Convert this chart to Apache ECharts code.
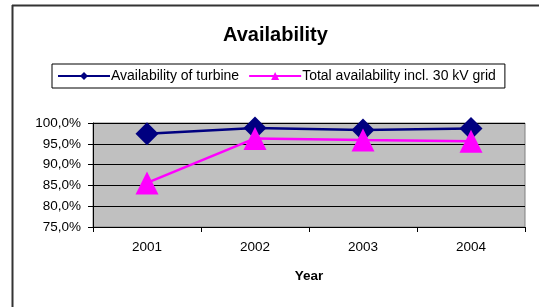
<!DOCTYPE html>
<html>
<head>
<meta charset="utf-8">
<script src="https://cdn.jsdelivr.net/npm/echarts@6/dist/echarts.min.js"></script>
<style>
  html, body { margin: 0; padding: 0; background: #fff; }
  #chart { width: 539px; height: 307px; }
</style>
</head>
<body>
<div id="chart"></div>
<script>
const years = ['2001', '2002', '2003', '2004'];
const turbine = [0.974, 0.988, 0.983, 0.987];
const totalGrid = [0.856, 0.963, 0.959, 0.956];
const yTicks = { min: 0.75, max: 1.0, step: 0.05 };

const pct = v => (v * 100).toFixed(1).replace('.', ',') + '%';

const chart = echarts.init(document.getElementById('chart'));
chart.setOption({
    animation: false,
    textStyle: { fontFamily: 'Liberation Sans, Arial, sans-serif' },
    title: {
        text: 'Availability',
        left: 218,
        top: 20,
        textStyle: { fontSize: 20, fontWeight: 'bold', color: '#000' },
    },
    legend: {
        left: 52,
        top: 64,
        padding: [5, 9, 5, 5],
        borderColor: '#000',
        borderWidth: 1,
        itemWidth: 52,
        itemHeight: 10,
        itemGap: 9,
        textStyle: { fontSize: 14, color: '#000', padding: [0, 0, 0, -4] },
        data: ['Availability of turbine', 'Total availability incl. 30 kV grid'],
    },
    grid: { left: 93, right: 14, top: 123, bottom: 80, show: true, backgroundColor: '#C0C0C0', borderColor: '#808080', borderWidth: 1 },
    xAxis: {
        type: 'category',
        data: years,
        boundaryGap: true,
        name: 'Year',
        nameLocation: 'middle',
        nameGap: 42,
        nameTextStyle: { fontSize: 13.5, fontWeight: 'bold', color: '#000' },
        axisLine: { lineStyle: { color: '#000', width: 1 } },
        axisTick: { show: true, length: 5, inside: false, lineStyle: { color: '#000' } },
        axisLabel: { fontSize: 13.5, color: '#000', margin: 13 },
    },
    yAxis: {
        type: 'value',
        min: yTicks.min,
        max: yTicks.max,
        interval: yTicks.step,
        axisLine: { show: true, lineStyle: { color: '#000', width: 1 } },
        axisTick: { show: true, length: 5, lineStyle: { color: '#000' } },
        axisLabel: { fontSize: 13.5, color: '#000', margin: 12, formatter: pct },
        splitLine: { show: true, lineStyle: { color: '#000', width: 1 } },
    },
    series: [
        {
            name: 'Availability of turbine',
            type: 'line',
            data: turbine,
            symbol: 'diamond',
            symbolSize: 23,
            lineStyle: { color: '#000080', width: 2.5 },
            itemStyle: { color: '#000080' },
        },
        {
            name: 'Total availability incl. 30 kV grid',
            type: 'line',
            data: totalGrid,
            symbol: 'triangle',
            symbolSize: 23,
            lineStyle: { color: '#FF00FF', width: 2.5 },
            itemStyle: { color: '#FF00FF' },
        },
    ],
    graphic: [
        { type: 'line', shape: { x1: 12, y1: 5.5, x2: 539, y2: 5.5 }, style: { stroke: '#333', lineWidth: 2 } },
        { type: 'line', shape: { x1: 12.5, y1: 5, x2: 12.5, y2: 307 }, style: { stroke: '#333', lineWidth: 2 } },
    ],
});
</script>
</body>
</html>
